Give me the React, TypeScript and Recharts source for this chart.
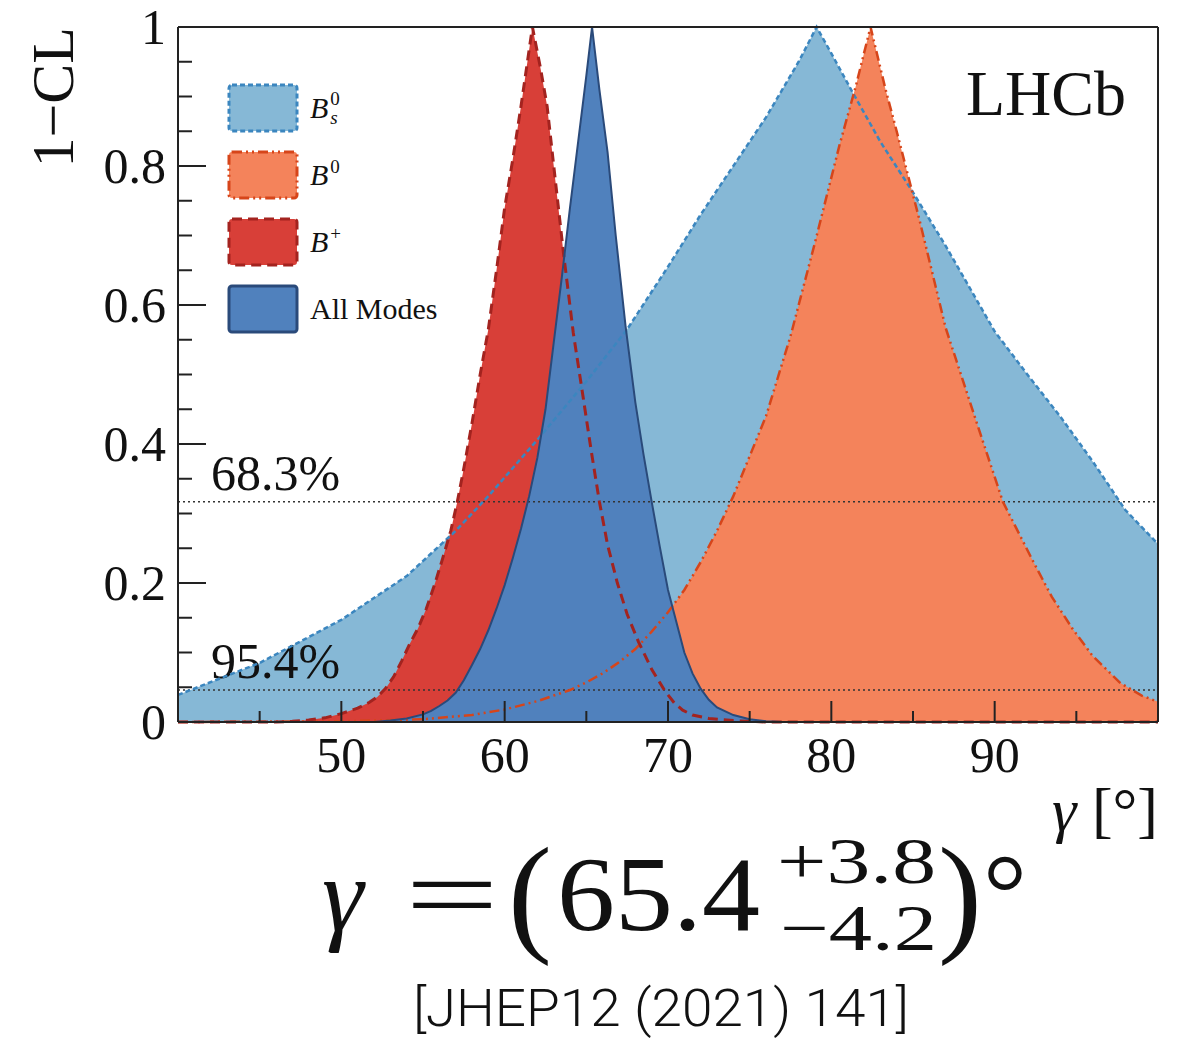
import React from "react";
import { ComposedChart, Area, Line, XAxis, YAxis, ReferenceLine, Legend } from "recharts";

const serif = '"Liberation Serif", "Times New Roman", serif';
const frame = "#222";

// gamma [deg] vs 1-CL for each mode
const bsX = [40, 45, 50, 54, 57, 59, 62, 65, 67.5, 70, 72, 74, 76, 78, 79.1, 80, 81.3, 83, 85, 87, 90, 92, 94, 96, 98, 100];
const bsY = [0.039, 0.085, 0.147, 0.21, 0.275, 0.325, 0.406, 0.49, 0.565, 0.655, 0.73, 0.8, 0.87, 0.95, 1.0, 0.962, 0.906, 0.835, 0.762, 0.685, 0.562, 0.5, 0.44, 0.375, 0.305, 0.256];

const b0X = [40, 50, 55, 58, 60, 62, 64, 65, 66, 67, 68, 69, 70, 71, 72, 73, 74, 76, 77.5, 79, 80.5, 81.5, 82.4, 83.3, 84, 85.4, 87, 88.7, 90.5, 92.4, 93.5, 94.8, 96, 97.7, 99, 100];
const b0Y = [0, 0.001, 0.004, 0.01, 0.018, 0.03, 0.046, 0.057, 0.07, 0.086, 0.105, 0.13, 0.158, 0.19, 0.23, 0.275, 0.325, 0.44, 0.555, 0.69, 0.83, 0.915, 1.0, 0.912, 0.85, 0.722, 0.567, 0.445, 0.317, 0.229, 0.18, 0.133, 0.095, 0.056, 0.038, 0.029];

const bpX = [40, 46, 47, 48, 49, 50, 51, 51.7, 52.2, 52.7, 53.2, 53.7, 54.2, 54.7, 55.2, 55.7, 56.2, 56.7, 57.1, 57.5, 58, 58.5, 59, 59.5, 60, 60.5, 61, 61.7, 62.2, 62.6, 63.1, 63.6, 64.2, 64.8, 65.3, 65.8, 66.3, 66.9, 67.5, 68.2, 69, 69.8, 70.4, 70.9, 71.5, 72.5, 74, 76, 100];
const bpY = [0, 0, 0.001, 0.003, 0.006, 0.012, 0.02, 0.028, 0.036, 0.048, 0.065, 0.088, 0.113, 0.135, 0.163, 0.197, 0.235, 0.275, 0.317, 0.365, 0.43, 0.5, 0.565, 0.65, 0.74, 0.81, 0.886, 1.0, 0.94, 0.886, 0.78, 0.675, 0.56, 0.468, 0.39, 0.317, 0.255, 0.2, 0.155, 0.115, 0.076, 0.045, 0.027, 0.017, 0.01, 0.005, 0.002, 0, 0];

const allX = [40, 52, 53, 54, 55, 55.5, 56, 56.5, 57, 57.5, 58, 58.5, 59, 59.5, 60, 60.5, 61, 61.5, 62, 62.5, 63, 63.5, 64, 64.5, 65, 65.35, 65.8, 66.3, 66.8, 67.4, 68, 68.5, 69, 69.5, 70, 70.5, 71, 71.5, 72, 72.5, 73, 74, 75, 76, 77, 100];
const allY = [0, 0, 0.002, 0.005, 0.011, 0.016, 0.023, 0.031, 0.042, 0.06, 0.082, 0.105, 0.132, 0.163, 0.197, 0.236, 0.278, 0.325, 0.38, 0.45, 0.545, 0.64, 0.74, 0.835, 0.93, 1.0, 0.91, 0.82, 0.7, 0.57, 0.46, 0.385, 0.317, 0.252, 0.19, 0.145, 0.1, 0.07, 0.048, 0.032, 0.021, 0.01, 0.004, 0.001, 0, 0];

const xTicks = [45, 50, 55, 60, 65, 70, 75, 80, 85, 90, 95];
const yTicks = [0, 0.05, 0.1, 0.15, 0.2, 0.25, 0.3, 0.35, 0.4, 0.45, 0.5, 0.55, 0.6, 0.65, 0.7, 0.75, 0.8, 0.85, 0.9, 0.95, 1];
const clLevels = [0.317, 0.046];
const clLabels = ["68.3%", "95.4%"];

const toRows = (xs: number[], ys: number[]) => xs.map((x, i) => ({ x, y: ys[i] }));

const series = [
  { key: "bs", data: toRows(bsX, bsY), fill: "#86b8d6", stroke: "#3b86bf", dash: "5 3", width: 2.5, base: "B", sup: "0", sub: "s" },
  { key: "b0", data: toRows(b0X, b0Y), fill: "#f4835b", stroke: "#d6451a", dash: "10 4 2 4 2 4", width: 2.5, base: "B", sup: "0", sub: "" },
  { key: "bp", data: toRows(bpX, bpY), fill: "#d83f38", stroke: "#a3231f", dash: "10 6", width: 3, base: "B", sup: "+", sub: "" },
  { key: "all", data: toRows(allX, allY), fill: "#5081bd", stroke: "#2a4a7a", dash: undefined, width: 2, base: "", sup: "", sub: "", text: "All Modes" },
];

const BottomTick = ({ x, y, payload }: any) => {
  const major = payload.value % 10 === 0;
  return (
    <g>
      <line x1={x} x2={x} y1={y} y2={y - (major ? 21 : 11)} stroke={frame} strokeWidth={2} />
      {major && (
        <text x={x} y={y + 50} textAnchor="middle" fontFamily={serif} fontSize={50} fill="#111">
          {payload.value}
        </text>
      )}
    </g>
  );
};

const TopTick = ({ x, y, payload }: any) => {
  const major = payload.value % 10 === 0;
  return <line x1={x} x2={x} y1={y} y2={y + (major ? 21 : 11)} stroke={frame} strokeWidth={2} />;
};

const isMajorY = (v: number) => Math.round(v * 100) % 20 === 0;

const LeftTick = ({ x, y, payload }: any) => {
  const v = payload.value;
  const major = isMajorY(v);
  return (
    <g>
      <line x1={x} x2={x + (major ? 28 : 14)} y1={y} y2={y} stroke={frame} strokeWidth={2} />
      {major && (
        <text x={x - 12} y={y + 17} textAnchor="end" fontFamily={serif} fontSize={50} fill="#111">
          {v === 0 ? "0" : v === 1 ? "1" : v.toFixed(1)}
        </text>
      )}
    </g>
  );
};

const RightTick = ({ x, y, payload }: any) => {
  const major = isMajorY(payload.value);
  return <line x1={x} x2={x - (major ? 28 : 14)} y1={y} y2={y} stroke={frame} strokeWidth={2} />;
};

const renderLegend = () => (
  <div style={{ fontFamily: serif, fontSize: 30, color: "#111" }}>
    {series.map((s) => (
      <div key={s.key} style={{ display: "flex", alignItems: "center", height: 67 }}>
        <svg width={72} height={52}>
          <rect x={2} y={3} width={68} height={46} rx={3} fill={s.fill} stroke={s.stroke} strokeWidth={3} strokeDasharray={s.dash} />
        </svg>
        <span style={{ marginLeft: 11, display: "inline-flex", alignItems: "center" }}>
          {s.text ? (
            s.text
          ) : (
            <>
              <span style={{ fontStyle: "italic" }}>{s.base}</span>
              <span style={{ display: "inline-flex", flexDirection: "column", fontSize: 19, lineHeight: "19px", marginLeft: 2 }}>
                <span style={{ marginTop: s.sub ? 0 : -16 }}>{s.sup}</span>
                {s.sub && <span style={{ fontStyle: "italic" }}>{s.sub}</span>}
              </span>
            </>
          )}
        </span>
      </div>
    ))}
  </div>
);

const renderYTitle = (props: any) => {
  const vb = props.viewBox;
  return (
    <text transform={`translate(${vb.x - 5},${vb.y}) rotate(-90)`} textAnchor="end" fontFamily={serif} fontSize={60} fill="#111">
      1−CL
    </text>
  );
};

const renderXTitle = (props: any) => {
  const vb = props.viewBox;
  return (
    <text x={vb.x + vb.width} y={vb.y + 109} textAnchor="end" fontFamily={serif} fontSize={62} fill="#111">
      <tspan fontStyle="italic">γ</tspan> [°]
    </text>
  );
};

const clLabel = (text: string) => (props: any) => {
  const vb = props.viewBox;
  return (
    <text x={vb.x + 33} y={vb.y - 12} fontFamily={serif} fontSize={50} fill="#111">
      {text}
    </text>
  );
};

export default function App() {
  return (
    <div style={{ position: "absolute", left: 0, top: 0, width: 1186, height: 1041, background: "#fff" }}>
      <ComposedChart width={1186} height={860} margin={{ top: 26, right: 27, left: 78, bottom: 78 }}>
        <XAxis
          xAxisId="b"
          dataKey="x"
          type="number"
          domain={[40, 100]}
          ticks={xTicks}
          interval={0}
          tickSize={0}
          tickMargin={0}
          tickLine={false}
          height={60}
          tick={(p: any) => <BottomTick {...p} />}
          axisLine={{ stroke: frame, strokeWidth: 2 }}
          label={renderXTitle}
        />
        <XAxis
          xAxisId="t"
          orientation="top"
          dataKey="x"
          type="number"
          domain={[40, 100]}
          ticks={xTicks}
          interval={0}
          tickSize={0}
          tickMargin={0}
          tickLine={false}
          height={1}
          tick={(p: any) => <TopTick {...p} />}
          axisLine={{ stroke: frame, strokeWidth: 2 }}
        />
        <YAxis
          yAxisId="l"
          type="number"
          domain={[0, 1]}
          ticks={yTicks}
          interval={0}
          tickSize={0}
          tickMargin={0}
          tickLine={false}
          width={100}
          tick={(p: any) => <LeftTick {...p} />}
          axisLine={{ stroke: frame, strokeWidth: 2 }}
          label={renderYTitle}
        />
        <YAxis
          yAxisId="r"
          orientation="right"
          type="number"
          domain={[0, 1]}
          ticks={yTicks}
          interval={0}
          tickSize={0}
          tickMargin={0}
          tickLine={false}
          width={1}
          tick={(p: any) => <RightTick {...p} />}
          axisLine={{ stroke: frame, strokeWidth: 2 }}
        />
        {series.map((s) => (
          <Area
            key={`area-${s.key}`}
            xAxisId="b"
            yAxisId="l"
            data={s.data}
            dataKey="y"
            type="linear"
            fill={s.fill}
            fillOpacity={1}
            stroke="none"
            isAnimationActive={false}
          />
        ))}
        {clLevels.map((v, i) => (
          <ReferenceLine
            key={v}
            xAxisId="b"
            yAxisId="l"
            y={v}
            stroke="#333"
            strokeWidth={1.5}
            strokeDasharray="2 3"
            label={clLabel(clLabels[i])}
          />
        ))}
        {series.map((s) => (
          <Line
            key={`line-${s.key}`}
            xAxisId="b"
            yAxisId="l"
            data={s.data}
            dataKey="y"
            type="linear"
            stroke={s.stroke}
            strokeWidth={s.width}
            strokeDasharray={s.dash}
            dot={false}
            activeDot={false}
            legendType="none"
            isAnimationActive={false}
          />
        ))}
        <Legend
          layout="vertical"
          align="center"
          verticalAlign="middle"
          wrapperStyle={{ left: 227, top: 74, width: "auto", height: "auto" }}
          content={renderLegend}
        />
      </ComposedChart>
      <svg width={1186} height={1041} style={{ position: "absolute", left: 0, top: 0, pointerEvents: "none" }}>
        <text x={1126} y={115} textAnchor="end" fontFamily={serif} fontSize={64} fill="#111">
          LHCb
        </text>
        <text x={322} y={930} fontFamily={serif} fontSize={105} fontStyle="italic" fill="#111">γ</text>
        <text x={405} y={930} fontFamily={serif} fontSize={105} fill="#111" textLength={94} lengthAdjust="spacingAndGlyphs">=</text>
        <text x={508} y={938} fontFamily={serif} fontSize={132} fill="#111">(</text>
        <text x={557} y={930} fontFamily={serif} fontSize={105} fill="#111" textLength={203} lengthAdjust="spacingAndGlyphs">65.4</text>
        <text x={777} y={883} fontFamily={serif} fontSize={66} fill="#111" textLength={159} lengthAdjust="spacingAndGlyphs">+3.8</text>
        <text x={780} y={950} fontFamily={serif} fontSize={66} fill="#111" textLength={157} lengthAdjust="spacingAndGlyphs">−4.2</text>
        <text x={938} y={938} fontFamily={serif} fontSize={132} fill="#111">)</text>
        <text x={983} y={930} fontFamily={serif} fontSize={110} fill="#111">°</text>
        <text x={661} y={1026} textAnchor="middle" fontFamily="Roboto, 'Liberation Sans', sans-serif" fontWeight={300} fontSize={52} fill="#111" textLength={496} lengthAdjust="spacingAndGlyphs">
          [JHEP12 (2021) 141]
        </text>
      </svg>
    </div>
  );
}
